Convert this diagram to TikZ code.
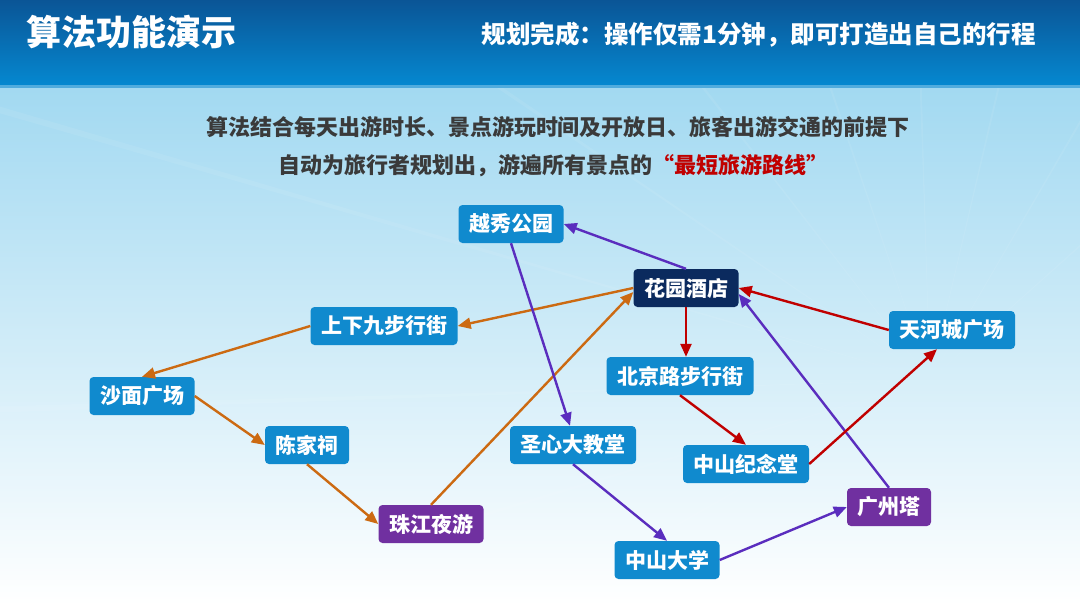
\documentclass[tikz,border=0pt]{standalone}
\usepackage{fontspec}
\setmainfont{Noto Sans CJK SC}
\usepackage{tikz}
\usetikzlibrary{arrows.meta}
\definecolor{gzblue}{HTML}{108ACE}
\definecolor{gznavy}{HTML}{0B2A5E}
\definecolor{gzpurple}{HTML}{7030A0}
\definecolor{gzorange}{HTML}{CC6A12}
\definecolor{gzviolet}{HTML}{5A2DBE}
\definecolor{gzred}{HTML}{C00000}
\definecolor{gzbartop}{HTML}{0A5596}
\definecolor{gzbarbot}{HTML}{0588D0}
\definecolor{gzsky}{HTML}{A2D9F1}
\definecolor{gztext}{HTML}{3A3A3A}
\tikzset{
  dayone/.style={-{Triangle[length=13pt,width=11pt]}, line width=2.4pt, draw=gzorange},
  daytwo/.style={-{Triangle[length=13pt,width=11pt]}, line width=2.4pt, draw=gzviolet},
  daythree/.style={-{Triangle[length=13pt,width=11pt]}, line width=2.4pt, draw=gzred},
  spot/.style={fill=gzblue, rounded corners=4pt, text=white, inner xsep=10.5pt,
    inner ysep=0pt, minimum height=38pt, font=\fontsize{21}{25}\selectfont\bfseries},
  hotel/.style={spot, fill=gznavy},
  nightspot/.style={spot, fill=gzpurple},
  headline/.style={text=white, inner sep=0pt},
  intro/.style={text=gztext, font=\fontsize{22}{26}\selectfont\bfseries, inner sep=0pt}
}
\begin{document}
\begin{tikzpicture}[x=1pt,y=-1pt]
  \useasboundingbox (0,0) rectangle (1080,605);
  \shade[top color=gzsky, middle color=gzsky!45, bottom color=white] (0,86) rectangle (1080,605);
  \begin{scope}
    \clip (0,86) rectangle (1080,605);
    \foreach \a in {150,163,178,196,214,232,251,268,283,300,318}
      \fill[white, opacity=0.07] (930,380) -- ++(\a:1500) -- ++(\a+90:10) -- cycle;
  \end{scope}
  \shade[top color=gzbartop, bottom color=gzbarbot] (0,0) rectangle (1080,85);
  \fill[gzbarbot!70!white] (0,85) rectangle (1080,88);

  \node[headline, font=\fontsize{35}{40}\selectfont\bfseries, anchor=west] (title) at (26,32) {算法功能演示};
  \node[headline, font=\fontsize{24.5}{28}\selectfont\bfseries, anchor=east] (slogan) at (1036,35) {规划完成：操作仅需1分钟，即可打造出自己的行程};
  \node[intro] (introa) at (558,127) {算法结合每天出游时长、景点游玩时间及开放日、旅客出游交通的前提下};
  \node[intro] (introb) at (553,166) {自动为旅行者规划出，游遍所有景点的\textcolor{gzred}{“最短旅游路线”}};

  \node[spot] (yxgy) at (511,224) {越秀公园};
  \node[hotel] (hotel) at (686,288) {花园酒店};
  \node[spot] (sxj) at (384,326) {上下九步行街};
  \node[spot] (smgc) at (142,396) {沙面广场};
  \node[spot] (cjc) at (307,445) {陈家祠};
  \node[nightspot] (zjyy) at (431,524) {珠江夜游};
  \node[spot] (bjl) at (680,376) {北京路步行街};
  \node[spot] (tyc) at (952,330) {天河城广场};
  \node[spot] (sxdjt) at (573,445) {圣心大教堂};
  \node[spot] (zsjnt) at (746,464) {中山纪念堂};
  \node[nightspot] (gzt) at (889,507) {广州塔};
  \node[spot] (zsdx) at (667,560) {中山大学};

  \draw[dayone] (hotel.west) -- (sxj.east);
  \draw[dayone] (sxj.west) -- (smgc.north);
  \draw[dayone] (smgc.east) -- (cjc.west);
  \draw[dayone] (cjc.south) -- (zjyy.west);
  \draw[dayone] (zjyy.north) -- ([yshift=-4pt]hotel.west);

  \draw[daytwo] (hotel.north) -- (yxgy.east);
  \draw[daytwo] (yxgy.south) -- ([xshift=-3pt]sxdjt.north);
  \draw[daytwo] (sxdjt.south) -- (zsdx.north);
  \draw[daytwo] (zsdx.east) -- (gzt.west);
  \draw[daytwo] (gzt.north) -- ([yshift=-6pt]hotel.east);

  \draw[daythree] (hotel.south) -- (hotel.south |- bjl.north);
  \draw[daythree] (bjl.south) -- (zsjnt.north);
  \draw[daythree] (zsjnt.east) -- ([xshift=-15pt]tyc.south);
  \draw[daythree] (tyc.west) -- (hotel.east);
\end{tikzpicture}
\end{document}
